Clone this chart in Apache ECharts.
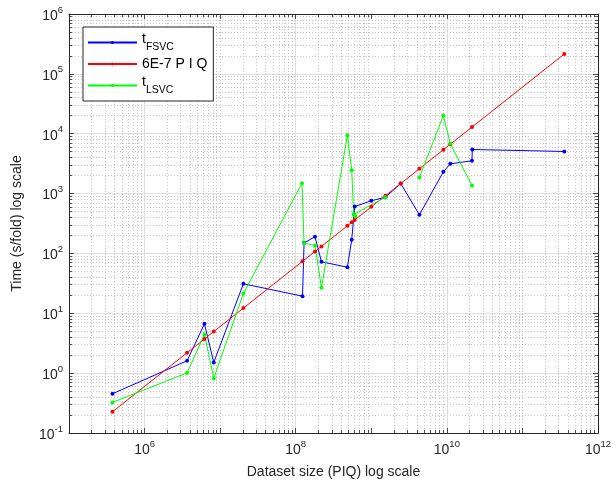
<!DOCTYPE html>
<html><head><meta charset="utf-8">
<script src="https://cdn.jsdelivr.net/npm/echarts@6/dist/echarts.min.js"></script>
<style>html,body{margin:0;padding:0;background:#fff}#c{width:616px;height:487px}</style>
</head><body><div id="c"></div>
<script>
// ---- data ----
const xFSVC = [3.76e5, 3.65e6, 6.2e6, 8.23e6, 2.03e7, 1.23e8, 1.29e8, 1.8e8, 2.19e8, 4.83e8, 5.51e8, 6.03e8, 1.0e9, 1.54e9, 2.45e9, 4.33e9, 8.99e9, 1.11e10, 2.15e10, 2.17e10, 3.58e11];
const yFSVC = [0.452, 1.61, 6.68, 1.51, 31.1, 19.3, 150, 190, 72.5, 58.9, 169, 608, 757, 870, 1473, 442, 2311, 3144, 3530, 5450, 5047];

const xPIQ = [3.76e5, 3.65e6, 6.2e6, 8.23e6, 2.03e7, 1.23e8, 1.8e8, 2.19e8, 4.83e8, 5.51e8, 6.03e8, 1.0e9, 1.54e9, 2.45e9, 4.33e9, 8.99e9, 1.11e10, 2.15e10, 3.58e11];
const yPIQ = [0.226, 2.19, 3.72, 4.94, 12.2, 73.8, 108, 131, 290, 331, 362, 600, 924, 1470, 2600, 5394, 6660, 12900, 214800];

const xLSVC = [3.76e5, 3.65e6, 6.2e6, 8.23e6, 2.03e7, 1.21e8, 1.29e8, 1.8e8, 2.19e8, 4.83e8, 5.51e8, 5.85e8, 6.16e8, 1.54e9, 2.45e9, 4.33e9, 8.99e9, 1.11e10, 2.15e10];
const yLSVC = [0.324, 1.01, 4.43, 0.824, 21.4, 1490, 148, 136, 26.7, 9450, 2459, 447, 414, 870, null, 1857, 20150, 6790, 1365];

const seriesNames = ['tFSVC', '6E-7 P I Q', 'tLSVC'];
const legendLabels = {'tFSVC': '{lb|t}{ls|FSVC}', '6E-7 P I Q': '{ln|6E-7 P I Q}', 'tLSVC': '{lb|t}{ls|LSVC}'};
const xTitle = 'Dataset size (PIQ) log scale';
const yTitle = 'Time (s/fold) log scale';

// ---- chart ----
const chart = echarts.init(document.getElementById('c'), null, {renderer: 'canvas'});
const axisColor = '#262626';
const font = 'Liberation Sans';
const majorGrid = '#dedede';
const minorGrid = '#c4c4c4';
const clear = 'rgba(0,0,0,0)';
function pairs(xs, ys) { return xs.map((x, i) => [x, ys[i] === null ? '-' : ys[i]]); }
function expOf(v) { return Math.round(Math.log10(v)); }
const supRich = {
  base: {fontFamily: font, fontSize: 14, lineHeight: 18, verticalAlign: 'bottom', color: axisColor},
  sup: {fontFamily: font, fontSize: 9.5, lineHeight: 10, verticalAlign: 'top', color: axisColor}
};
const axLine = {show: true, onZero: false, lineStyle: {color: axisColor, width: 1}};
const tick = {show: true, inside: true, length: 5, lineStyle: {color: axisColor, width: 0.8}};
const mtick = {show: true, inside: true, length: 3, splitNumber: 9, lineStyle: {color: axisColor, width: 0.8}};

const option = {
  animation: false,
  backgroundColor: '#fff',
  grid: {left: 69, top: 14, width: 529, height: 419},
  xAxis: [
    {
      type: 'log', logBase: 10, min: 1e5, max: 1e12, position: 'bottom',
      axisLine: axLine, axisTick: tick, minorTick: mtick,
      splitLine: {show: true, lineStyle: {color: [clear, majorGrid], width: 1}},
      minorSplitLine: {show: true, lineStyle: {color: minorGrid, width: 1, type: [1, 2]}},
      axisLabel: {
        margin: 6, fontFamily: font, fontSize: 14, color: axisColor, rich: supRich,
        formatter: v => { const e = expOf(v); return e % 2 === 0 ? '{base|10}{sup|' + e + '}' : ''; }
      },
      name: xTitle, nameLocation: 'middle', nameGap: 32,
      nameTextStyle: {fontFamily: font, fontSize: 14, color: axisColor}
    },
    {
      type: 'log', logBase: 10, min: 1e5, max: 1e12, position: 'top',
      axisLine: axLine, axisTick: tick, minorTick: mtick,
      splitLine: {show: true, lineStyle: {color: [clear, clear, minorGrid, clear], width: 1, type: [1, 2]}},
      axisLabel: {show: false}
    }
  ],
  yAxis: [
    {
      type: 'log', logBase: 10, min: 0.1, max: 1e6, position: 'left',
      axisLine: axLine, axisTick: tick, minorTick: mtick,
      splitLine: {show: true, lineStyle: {color: majorGrid, width: 1}},
      minorSplitLine: {show: true, lineStyle: {color: minorGrid, width: 1, type: [1, 2]}},
      axisLabel: {margin: 6, fontFamily: font, fontSize: 14, color: axisColor, rich: supRich,
                  formatter: v => '{base|10}{sup|' + expOf(v) + '}'},
      name: yTitle, nameLocation: 'middle', nameGap: 45,
      nameTextStyle: {fontFamily: font, fontSize: 14, color: axisColor}
    },
    {
      type: 'log', logBase: 10, min: 0.1, max: 1e6, position: 'right',
      axisLine: axLine, axisTick: tick, minorTick: mtick,
      splitLine: {show: false}, axisLabel: {show: false}
    }
  ],
  legend: {
    orient: 'vertical', left: 83, top: 27,
    data: seriesNames,
    itemWidth: 49, itemHeight: 4, itemGap: 4, itemTextGap: 4,
    padding: [5, 6, 5, 4],
    backgroundColor: '#fff', borderColor: axisColor, borderWidth: 1, borderRadius: 0,
    formatter: name => legendLabels[name],
    textStyle: {
      fontFamily: font, fontSize: 14, color: '#000',
      rich: {
        lb: {fontFamily: font, fontSize: 14, lineHeight: 21, verticalAlign: 'top', color: '#000'},
        ls: {fontFamily: font, fontSize: 10.5, lineHeight: 12, verticalAlign: 'bottom', color: '#000'},
        ln: {fontFamily: font, fontSize: 14, lineHeight: 21, color: '#000'}
      }
    }
  },
  series: [
    {name: seriesNames[0], type: 'line', data: pairs(xFSVC, yFSVC), color: '#0000ff',
     symbol: 'circle', symbolSize: 4, lineStyle: {width: 1}, connectNulls: false},
    {name: seriesNames[1], type: 'line', data: pairs(xPIQ, yPIQ), color: '#ff0000',
     symbol: 'circle', symbolSize: 4, lineStyle: {width: 1}},
    {name: seriesNames[2], type: 'line', data: pairs(xLSVC, yLSVC), color: '#00ff00',
     symbol: 'circle', symbolSize: 4, lineStyle: {width: 1}, connectNulls: false}
  ]
};
chart.setOption(option);
</script>
</body></html>
